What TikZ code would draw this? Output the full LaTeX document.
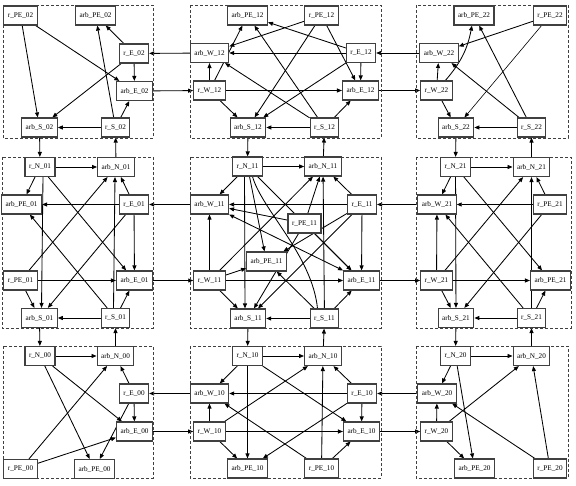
\documentclass[tikz,border=0pt]{standalone}
\usepackage{fontspec}
\setmainfont{Liberation Serif}
\usetikzlibrary{arrows.meta,backgrounds}
\begin{document}
\begin{tikzpicture}[x=1pt,y=-1pt,
  nd/.style={draw=black!75, fill=white, line width=1.1pt, minimum height=19pt, inner xsep=4pt, inner ysep=0pt, font=\fontsize{7.2}{8}\selectfont},
  a/.style={-{Triangle[length=5pt,width=4pt]}, line width=0.85pt},
  ab/.style={{Triangle[length=5pt,width=4pt]}-{Triangle[length=5pt,width=4pt]}, line width=0.85pt},
  pl/.style={line width=0.85pt},
  clus/.style={draw=black!75, line width=0.7pt, dash pattern=on 3pt off 2pt}]
\useasboundingbox (0,0) rectangle (576,486);
% clusters
\draw[clus] (3,5) rectangle (153,138);
\draw[clus] (190,5) rectangle (381,138);
\draw[clus] (416,5) rectangle (568,138);
\draw[clus] (2,157) rectangle (153,328);
\draw[clus] (190,157) rectangle (381,328);
\draw[clus] (416,157) rectangle (571,328);
\draw[clus] (3,346) rectangle (153,478);
\draw[clus] (190,346) rectangle (381,478);
\draw[clus] (416,346) rectangle (568,478);
% C02
\node[nd] (rPE02) at (20.5,15.5) {r\_PE\_02};
\node[nd] (arbPE02) at (95.5,15.5) {arb\_PE\_02};
\node[nd] (rE02) at (134,53.5) {r\_E\_02};
\node[nd] (arbE02) at (134.5,91) {arb\_E\_02};
\node[nd] (arbS02) at (39.5,127.5) {arb\_S\_02};
\node[nd] (rS02) at (115.5,127.5) {r\_S\_02};
% C12
\node[nd] (arbPE12) at (247.5,15.5) {arb\_PE\_12};
\node[nd] (rPE12) at (321.5,15.5) {r\_PE\_12};
\node[nd] (arbW12) at (209.5,53) {arb\_W\_12};
\node[nd] (rE12) at (361,53) {r\_E\_12};
\node[nd] (rW12) at (209.5,90.5) {r\_W\_12};
\node[nd] (arbE12) at (360.5,90.5) {arb\_E\_12};
\node[nd] (arbS12) at (248,127.5) {arb\_S\_12};
\node[nd] (rS12) at (324.5,127.5) {r\_S\_12};
% C22
\node[nd] (arbPE22) at (474,15.5) {arb\_PE\_22};
\node[nd] (rPE22) at (550,15.5) {r\_PE\_22};
\node[nd] (arbW22) at (439,53) {arb\_W\_22};
\node[nd] (rW22) at (436.5,90.5) {r\_W\_22};
\node[nd] (arbS22) at (456,127.5) {arb\_S\_22};
\node[nd] (rS22) at (531.5,127.5) {r\_S\_22};
% C01
\node[nd] (rN01) at (40,167) {r\_N\_01};
\node[nd] (arbN01) at (116,167) {arb\_N\_01};
\node[nd] (arbPE01) at (21.5,204.5) {arb\_PE\_01};
\node[nd] (rE01) at (134,204.5) {r\_E\_01};
\node[nd] (rPE01) at (20.5,280.5) {r\_PE\_01};
\node[nd] (arbE01) at (134.5,280.5) {arb\_E\_01};
\node[nd] (arbS01) at (39.5,318) {arb\_S\_01};
\node[nd] (rS01) at (115.5,318) {r\_S\_01};
% C11
\node[nd] (rN11) at (247.5,166.5) {r\_N\_11};
\node[nd] (arbN11) at (323,166.5) {arb\_N\_11};
\node[nd] (arbW11) at (209.5,204.5) {arb\_W\_11};
\node[nd] (rE11) at (362,204.5) {r\_E\_11};
\node[nd] (rPE11) at (304.5,223.5) {r\_PE\_11};
\node[nd] (arbPE11) at (266.5,261.5) {arb\_PE\_11};
\node[nd] (rW11) at (209.5,280.5) {r\_W\_11};
\node[nd] (arbE11) at (361.5,280.5) {arb\_E\_11};
\node[nd] (arbS11) at (248,318.5) {arb\_S\_11};
\node[nd] (rS11) at (324.5,318.5) {r\_S\_11};
% C21
\node[nd] (rN21) at (455.5,167) {r\_N\_21};
\node[nd] (arbN21) at (531.5,167) {arb\_N\_21};
\node[nd] (arbW21) at (437,204.5) {arb\_W\_21};
\node[nd] (rPE21) at (550,204.5) {r\_PE\_21};
\node[nd] (rW21) at (436.5,280.5) {r\_W\_21};
\node[nd] (arbPE21) at (550.5,280.5) {arb\_PE\_21};
\node[nd] (arbS21) at (456,318) {arb\_S\_21};
\node[nd] (rS21) at (531.5,318) {r\_S\_21};
% C00
\node[nd] (rN00) at (40,356) {r\_N\_00};
\node[nd] (arbN00) at (115.5,356) {arb\_N\_00};
\node[nd] (rE00) at (134,393.5) {r\_E\_00};
\node[nd] (arbE00) at (134.5,431.5) {arb\_E\_00};
\node[nd] (rPE00) at (20.5,469) {r\_PE\_00};
\node[nd] (arbPE00) at (94.5,469) {arb\_PE\_00};
% C10
\node[nd] (rN10) at (247.5,356) {r\_N\_10};
\node[nd] (arbN10) at (323,356) {arb\_N\_10};
\node[nd] (arbW10) at (209.5,393.5) {arb\_W\_10};
\node[nd] (rE10) at (362,393.5) {r\_E\_10};
\node[nd] (rW10) at (209.5,431.5) {r\_W\_10};
\node[nd] (arbE10) at (361.5,431.5) {arb\_E\_10};
\node[nd] (arbPE10) at (247.5,468.5) {arb\_PE\_10};
\node[nd] (rPE10) at (321.5,468.5) {r\_PE\_10};
% C20
\node[nd] (rN20) at (455.5,356) {r\_N\_20};
\node[nd] (arbN20) at (531.5,356) {arb\_N\_20};
\node[nd] (arbW20) at (437,393.5) {arb\_W\_20};
\node[nd] (rW20) at (436.5,431.5) {r\_W\_20};
\node[nd] (arbPE20) at (474.5,468.5) {arb\_PE\_20};
\node[nd] (rPE20) at (550,468.5) {r\_PE\_20};
\begin{pgfonlayer}{background}
% edges C02
\draw[a] (rPE02) -- (arbS02);
\draw[a] (rPE02) -- (arbE02);
\draw[a] (rE02) -- (arbPE02);
\draw[a] (rE02) -- (arbE02);
\draw[a] (rE02) -- (arbS02);
\draw[a] (rS02) -- (arbPE02);
\draw[a] (rS02) -- (arbE02);
\draw[a] (rS02) -- (arbS02);
% C12
\draw[a] (rPE12) -- (arbW12);
\draw[a] (rPE12) -- (arbS12);
\draw[a] (rPE12) -- (arbE12);
\draw[a] (rE12) -- (arbPE12);
\draw[a] (rE12) -- (arbW12);
\draw[a] (rE12) -- (arbE12);
\draw[a] (rE12) -- (arbS12);
\draw[a] (rW12) -- (arbW12);
\draw[a] (rW12) -- (arbPE12);
\draw[a] (rW12) -- (arbE12);
\draw[a] (rW12) -- (arbS12);
\draw[a] (rS12) -- (arbPE12);
\draw[a] (rS12) -- (arbW12);
\draw[a] (rS12) -- (arbS12);
\draw[a] (rS12) -- (arbE12);
% C22
\draw[a] (rPE22) -- (arbW22);
\draw[a, line width=0.6pt] (rPE22) -- (arbS22);
\draw[a] (rW22) -- (arbW22);
\draw[a] (rW22) to[bend right=15] (arbPE22);
\draw[a] (rW22) -- (arbS22);
\draw[a] (rS22) -- (arbPE22);
\draw[a] (rS22) -- (arbW22);
\draw[a] (rS22) -- (arbS22);
% C01
\draw[a] (rN01) -- (arbN01);
\draw[a] (rN01) -- (arbPE01);
\draw[a] ([xshift=3pt]rN01.south) -- ([xshift=2pt]arbS01.north);
\draw[a] (rN01) -- (arbE01);
\draw[a] (rE01) -- (arbN01);
\draw[a] (rE01) -- (arbPE01);
\draw[a] (rE01) -- (arbE01);
\draw[a] (rE01) -- (arbS01);
\draw[a] (rPE01) -- (arbN01);
\draw[a] (rPE01) -- (arbE01);
\draw[a] (rPE01) -- (arbS01);
\draw[a] ([xshift=-2pt]rS01.north) -- ([xshift=-1pt]arbN01.south);
\draw[a] (rS01) -- (arbPE01);
\draw[a] (rS01) -- (arbE01);
\draw[a] (rS01) -- (arbS01);
% C11
\draw[a] (rN11) -- (arbN11);
\draw[a] (rN11) -- (arbW11);
\draw[a] ([xshift=-3pt]rN11.south) -- ([xshift=-3pt]arbS11.north);
\draw[a] (rN11) -- (arbPE11);
\draw[a] (rN11) -- (arbE11);
\draw[pl] ([xshift=5pt]rN11.south) .. controls (262,210) and (312,255) .. ([xshift=-7pt]rS11.north);
\draw[ab] (arbW11.south east) -- (arbE11.north west);
\draw[a] (rE11) -- (arbN11);
\draw[a] (rE11) -- (arbW11);
\draw[a] (rE11) -- (arbPE11);
\draw[a] (rE11) -- (arbE11);
\draw[a] (rE11) -- (arbS11);
\draw[a] (rW11) -- (arbN11);
\draw[a] (rW11) -- (arbW11);
\draw[a] (rW11) -- (arbPE11);
\draw[a] (rW11) -- (arbE11);
\draw[a] (rW11) -- (arbS11);
\draw[a] (rS11) -- (arbN11);
\draw[a] (rS11) -- (arbPE11);
\draw[a] (rS11) -- (arbE11);
\draw[a] (rS11) -- (arbS11);
\draw[a] (rPE11) -- (arbN11);
\draw[a] (rPE11) -- (arbW11);
\draw[a] (rPE11) -- (arbE11);
\draw[a] (rPE11) -- (arbS11);
% C21
\draw[a] (rN21) -- (arbN21);
\draw[a] (rN21) -- (arbW21);
\draw[a] (rN21) -- (arbS21);
\draw[a] (rN21) -- (arbPE21);
\draw[a] (rPE21) -- (arbN21);
\draw[a] (rPE21) -- (arbW21);
\draw[a] (rPE21) -- (arbS21);
\draw[a] (rW21) -- (arbW21);
\draw[a] (rW21) -- (arbN21);
\draw[a] (rW21) -- (arbPE21);
\draw[a] (rW21) -- (arbS21);
\draw[a] (rS21) -- (arbN21);
\draw[a] (rS21) -- (arbW21);
\draw[a] (rS21) -- (arbPE21);
\draw[a] (rS21) -- (arbS21);
% C00
\draw[a] (rN00) -- (arbN00);
\draw[a] (rN00) -- (arbPE00);
\draw[a] (rN00) -- (arbE00);
\draw[a] (rE00) -- (arbN00);
\draw[a] (rE00) -- (arbE00);
\draw[a] (rE00) -- (arbPE00);
\draw[a] (rPE00) -- (arbN00);
\draw[a] (rPE00) -- (arbE00);
% C10
\draw[a] (rN10) -- (arbN10);
\draw[a] (rN10) -- (arbW10);
\draw[a] (rN10) -- (arbPE10);
\draw[a] (rN10) -- (arbE10);
\draw[a] (rE10) -- (arbN10);
\draw[a] (rE10) -- (arbW10);
\draw[a] (rE10) -- (arbE10);
\draw[a] (rE10) -- (arbPE10);
\draw[a] (rW10) -- (arbW10);
\draw[a] (rW10) -- (arbN10);
\draw[a] (rW10) -- (arbE10);
\draw[a] (rW10) -- (arbPE10);
\draw[a] (rPE10) -- (arbN10);
\draw[a] (rPE10) -- (arbW10);
\draw[a] (rPE10) -- (arbE10);
% C20
\draw[a] (rN20) -- (arbN20);
\draw[a] (rN20) -- (arbW20);
\draw[a] (rN20) -- (arbPE20);
\draw[a] (rW20) -- (arbW20);
\draw[a] (rW20) -- (arbN20);
\draw[a] (rW20) -- (arbPE20);
\draw[a] (rPE20) -- (arbN20);
\draw[a] (rPE20) -- (arbW20);
% inter-cluster
\draw[a] (arbW12) -- (rE02);
\draw[a] (arbE02) -- (rW12);
\draw[a] (arbW22) -- (rE12);
\draw[a] (arbE12) -- (rW22);
\draw[a] (arbS02) -- (rN01);
\draw[a] (arbN01) -- (rS02);
\draw[a] (arbS12) -- (rN11);
\draw[a] (arbN11) -- (rS12);
\draw[a] (arbS22) -- (rN21);
\draw[a] (arbN21) -- (rS22);
\draw[a] (arbW11) -- (rE01);
\draw[a] (arbE01) -- (rW11);
\draw[a] (arbW21) -- (rE11);
\draw[a] (arbE11) -- (rW21);
\draw[a] (arbS01) -- (rN00);
\draw[a] (arbN00) -- (rS01);
\draw[a] (arbS11) -- (rN10);
\draw[a] (arbN10) -- (rS11);
\draw[a] (arbS21) -- (rN20);
\draw[a] (arbN20) -- (rS21);
\draw[a] (arbW10) -- (rE00);
\draw[a] (arbE00) -- (rW10);
\draw[a] (arbW20) -- (rE10);
\draw[a] (arbE10) -- (rW20);
\end{pgfonlayer}
\end{tikzpicture}
\end{document}
